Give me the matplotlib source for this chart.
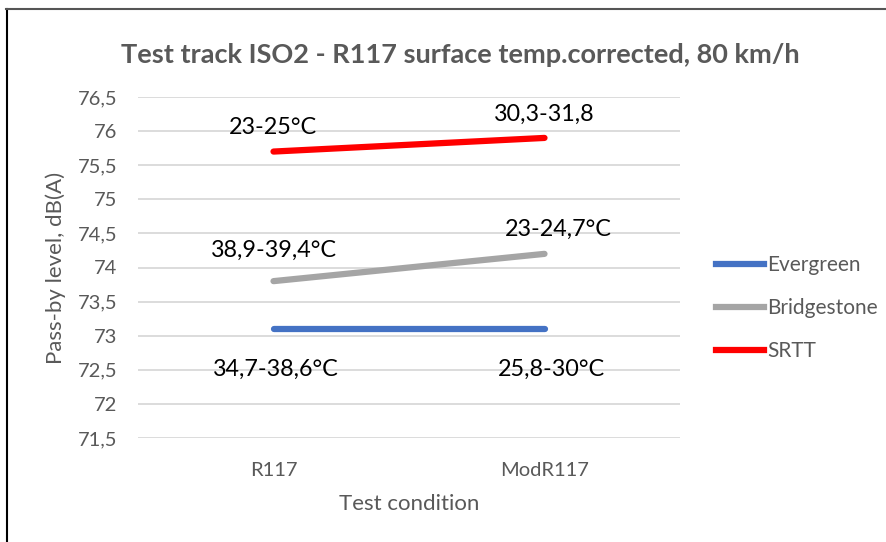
import matplotlib
matplotlib.use("Agg")
import matplotlib.pyplot as plt
from matplotlib.lines import Line2D

plt.rcParams['font.family'] = ['Lato', 'DejaVu Sans']

conditions = ["R117", "ModR117"]
series_names = ["Evergreen", "Bridgestone", "SRTT"]
evergreen = [73.1, 73.1]
bridgestone = [73.8, 74.2]
srtt = [75.7, 75.9]
colors = ["#4472C4", "#A5A5A5", "#FF0000"]

# temperature labels written next to each point
temp_labels = {
    "SRTT": ["23-25°C", "30,3-31,8"],
    "Bridgestone": ["38,9-39,4°C", "23-24,7°C"],
    "Evergreen": ["34,7-38,6°C", "25,8-30°C"],
}
yticks = [71.5, 72, 72.5, 73, 73.5, 74, 74.5, 75, 75.5, 76, 76.5]

grey = "#595959"

fig = plt.figure(figsize=(8.86, 5.42), dpi=100)
ax = fig.add_axes([138 / 886, 1 - 438 / 542, 542 / 886, 341 / 542])

x = [0, 1]
all_series = [evergreen, bridgestone, srtt]
for name, vals, c in zip(series_names, all_series, colors):
    ax.plot(x, vals, color=c, lw=4.5, solid_capstyle="round", zorder=3, label=name)

ax.set_xlim(-0.5, 1.5)
ax.set_ylim(71.5, 76.5)
ax.set_yticks(yticks)
ax.set_yticklabels([f"{v:g}".replace(".", ",") for v in yticks])
ax.set_xticks(x)
ax.set_xticklabels(conditions)
ax.tick_params(length=0, colors=grey, labelsize=14.5)
ax.tick_params(axis="y", pad=15)
ax.tick_params(axis="x", pad=17)
ax.grid(axis="y", color="#D9D9D9", lw=1.3, zorder=0)
for s in ax.spines.values():
    s.set_visible(False)

ax.set_ylabel("Pass-by level, dB(A)", color=grey, fontsize=16, labelpad=8)
ax.set_xlabel("Test condition", color=grey, fontsize=16, labelpad=11)

# annotation offsets in points from the data point
offsets = {
    "SRTT": [(0, 17), (0, 17)],
    "Bridgestone": [(0, 22), (10, 18)],
    "Evergreen": [(2, -29), (5, -29)],
}
for name, vals in zip(series_names, all_series):
    for i in range(2):
        ax.annotate(temp_labels[name][i], (x[i], vals[i]), xytext=offsets[name][i],
                    textcoords="offset points", ha="center", va="center",
                    fontsize=16.8, color="black")

fig.text(460 / 886, 1 - 55 / 542, "Test track ISO2 - R117 surface temp.corrected, 80 km/h",
         ha="center", va="center", fontsize=19.5, fontweight="bold", color=grey)

handles = [Line2D([], [], color=c, lw=4.5) for c in colors]
fig.legend(handles, series_names, loc="center left", bbox_to_anchor=(708 / 886, 1 - 308 / 542),
           frameon=False, fontsize=15, labelcolor=grey, handlelength=2.3,
           handletextpad=0.15, labelspacing=1.1, borderaxespad=0)

# screenshot frame
fig.add_artist(Line2D([6.5 / 886, 6.5 / 886], [0, 1 - 9 / 542], color="black", lw=1.5,
                      transform=fig.transFigure))
fig.add_artist(Line2D([6 / 886, 1], [1 - 9 / 542, 1 - 9 / 542], color="#555555", lw=1.5,
                      transform=fig.transFigure))

fig.savefig("out.png", dpi=100)
